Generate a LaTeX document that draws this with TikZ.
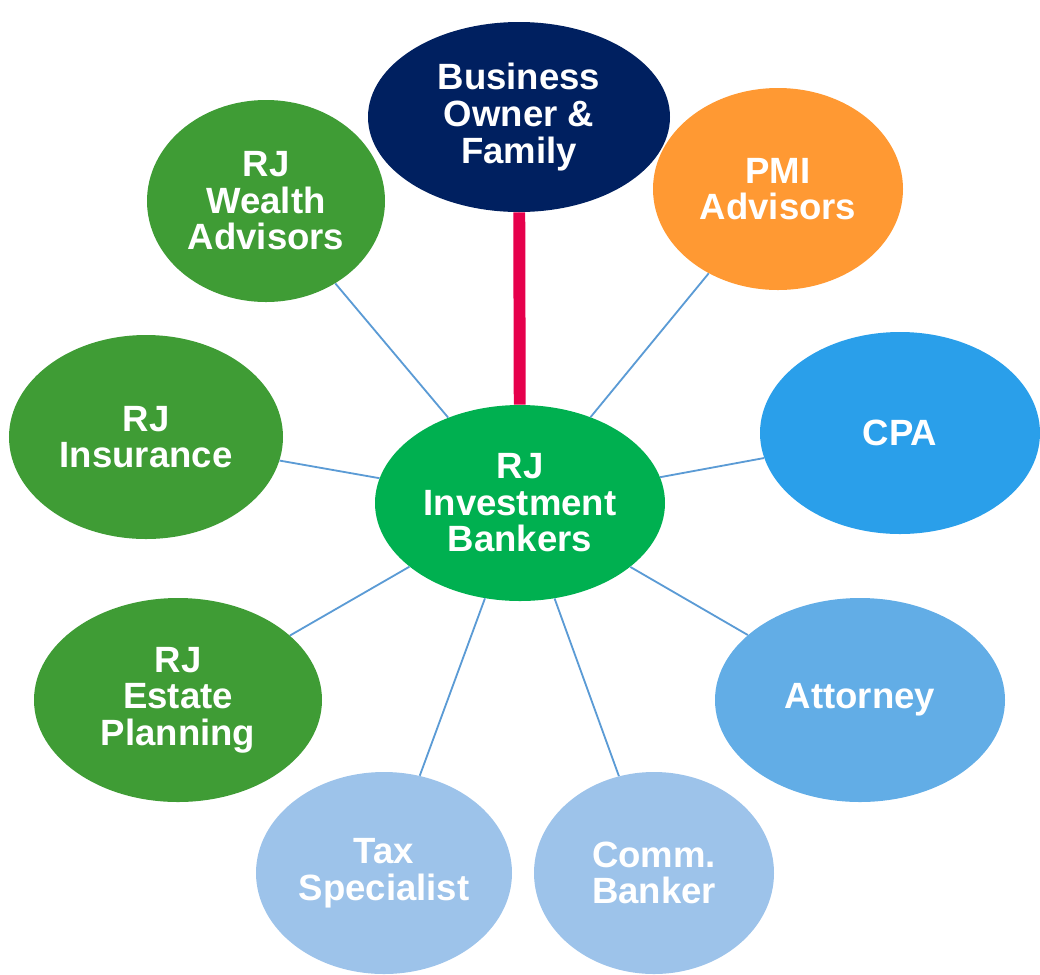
\documentclass[tikz,border=0pt]{standalone}
\usepackage{fontspec}
\setmainfont{Liberation Sans}
\usetikzlibrary{shapes.geometric}

\definecolor{ownernavy}{HTML}{002060}
\definecolor{pmiorange}{HTML}{FF9933}
\definecolor{cpablue}{HTML}{2A9FEA}
\definecolor{attblue}{HTML}{62ADE6}
\definecolor{paleblue}{HTML}{9DC3EA}
\definecolor{rjgreen}{HTML}{3F9C35}
\definecolor{ibgreen}{HTML}{00B050}
\definecolor{spokeblue}{HTML}{5B9BD5}
\definecolor{linkred}{HTML}{E6004C}

\tikzset{
    bubble/.style={ellipse,inner sep=0pt,text=white,align=center,
        font=\bfseries\fontsize{26}{26}\selectfont},
    spoke/.style={draw=spokeblue,line width=1.3pt},
}

\begin{document}
\begin{tikzpicture}
        \useasboundingbox (0,0) rectangle (26,-24.35);

        % the centre
        \node[bubble,fill=ibgreen,minimum width=7.25cm,minimum height=4.9cm] (ib) at (13.0,-12.575) {RJ\\Investment\\Bankers};

        % the ring round it
        \node[bubble,fill=ownernavy,minimum width=7.55cm,minimum height=4.75cm] (owner) at (12.975,-2.925) {Business\\Owner \&\\Family};
        \node[bubble,fill=pmiorange,minimum width=6.25cm,minimum height=5.05cm] (pmi) at (19.45,-4.725) {PMI\\Advisors};
        \node[bubble,fill=cpablue,minimum width=7.0cm,minimum height=5.05cm] (cpa) at (22.5,-10.825) {CPA};
        \node[bubble,fill=attblue,minimum width=7.25cm,minimum height=5.1cm] (attorney) at (21.5,-17.5) {Attorney};
        \node[bubble,fill=paleblue,minimum width=6.0cm,minimum height=5.05cm] (banker) at (16.35,-21.825) {Comm.\\Banker};
        \node[bubble,fill=paleblue,minimum width=6.4cm,minimum height=5.05cm] (tax) at (9.6,-21.825) {Tax\\Specialist};
        \node[bubble,fill=rjgreen,minimum width=7.2cm,minimum height=5.1cm] (estate) at (4.45,-17.5) {RJ\\Estate\\Planning};
        \node[bubble,fill=rjgreen,minimum width=6.85cm,minimum height=5.1cm] (insurance) at (3.65,-10.925) {RJ\\Insurance};
        \node[bubble,fill=rjgreen,minimum width=5.95cm,minimum height=5.05cm] (wealth) at (6.65,-5.025) {RJ\\Wealth\\Advisors};

        % the owner link
        \draw[draw=linkred,line width=8.5pt] (owner) -- (ib);

        % thin spokes
        \foreach \n in {pmi,cpa,attorney,banker,tax,estate,insurance,wealth}
                \draw[spoke] (ib) -- (\n);

\end{tikzpicture}
\end{document}
